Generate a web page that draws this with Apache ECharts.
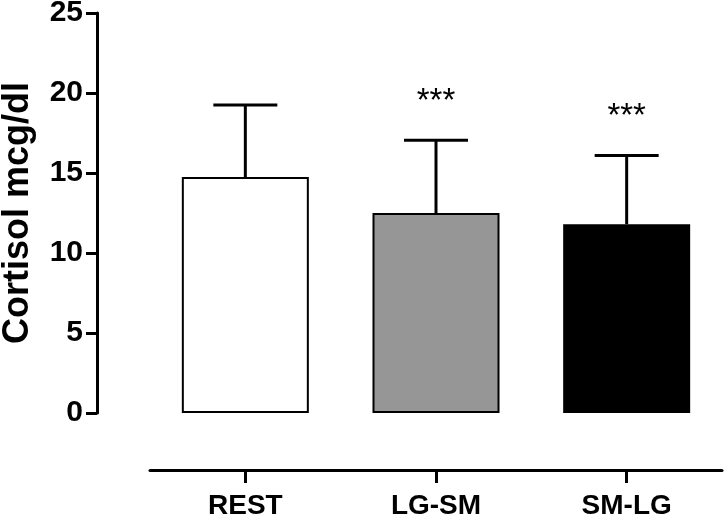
<!DOCTYPE html>
<html>
<head>
<meta charset="utf-8">
<script src="https://cdn.jsdelivr.net/npm/echarts@6/dist/echarts.min.js"></script>
<style>
  html, body { margin: 0; padding: 0; background: #fff; }
  #chart { width: 725px; height: 518px; }
</style>
</head>
<body>
<div id="chart"></div>
<script>
// data
const categories = ['REST', 'LG-SM', 'SM-LG'];
const means = [14.75, 12.5, 11.8];
const sdUpper = [19.25, 17.05, 16.1]; // mean + SD
const stars = ['', '***', '***'];
const yTicks = [0, 5, 10, 15, 20, 25];

const barColors = ['#ffffff', '#969696', '#000000'];
const font = '"Liberation Sans", Arial, sans-serif';

const chart = echarts.init(document.getElementById('chart'));

const option = {
  animation: false,
  grid: { left: 150, right: 3, top: 13, bottom: 105, containLabel: false, outerBoundsMode: 'none' },
  xAxis: {
    type: 'category',
    data: categories,
    offset: 57,
    axisLine: { onZero: false, lineStyle: { color: '#000', width: 3 } },
    axisTick: { show: true, alignWithLabel: true, length: 13, lineStyle: { color: '#000', width: 3 } },
    axisLabel: { color: '#000', fontFamily: font, fontWeight: 'bold', fontSize: 28, margin: 22 }
  },
  yAxis: {
    type: 'value',
    min: yTicks[0],
    max: yTicks[yTicks.length - 1],
    interval: 5,
    offset: 53,
    name: 'Cortisol mcg/dl',
    nameLocation: 'middle',
    nameGap: 61,
    nameTextStyle: { color: '#000', fontFamily: font, fontWeight: 'bold', fontSize: 36 },
    axisLine: { show: true, onZero: false, lineStyle: { color: '#000', width: 3 } },
    axisTick: { show: true, length: 11, lineStyle: { color: '#000', width: 3 } },
    axisLabel: { color: '#000', fontFamily: font, fontWeight: 'bold', fontSize: 30, margin: 14 },
    splitLine: { show: false }
  },
  series: [
    {
      type: 'bar',
      barWidth: 127,
      data: means.map((v, i) => ({
        value: v,
        itemStyle: { color: barColors[i], borderColor: '#000', borderWidth: 2 }
      }))
    },
    {
      type: 'custom',
      data: means.map((v, i) => [i, v, sdUpper[i]]),
      z: 5,
      renderItem: function (params, api) {
        const i = api.value(0);
        const base = api.coord([i, api.value(1)]);
        const top = api.coord([i, api.value(2)]);
        const half = 32;
        const children = [
          { type: 'line', shape: { x1: base[0], y1: base[1], x2: top[0], y2: top[1] },
            style: { stroke: '#000', lineWidth: 3 } },
          { type: 'line', shape: { x1: top[0] - half, y1: top[1], x2: top[0] + half, y2: top[1] },
            style: { stroke: '#000', lineWidth: 3 } }
        ];
        // significance marks above the error bar
        if (stars[i]) {
          children.push({
            type: 'text',
            x: top[0],
            y: top[1] - 38,
            style: {
              text: stars[i], fill: '#000', fontSize: 33, fontFamily: font,
              align: 'center', verticalAlign: 'middle'
            }
          });
        }
        return { type: 'group', children: children };
      }
    }
  ]
};

chart.setOption(option);
</script>
</body>
</html>
